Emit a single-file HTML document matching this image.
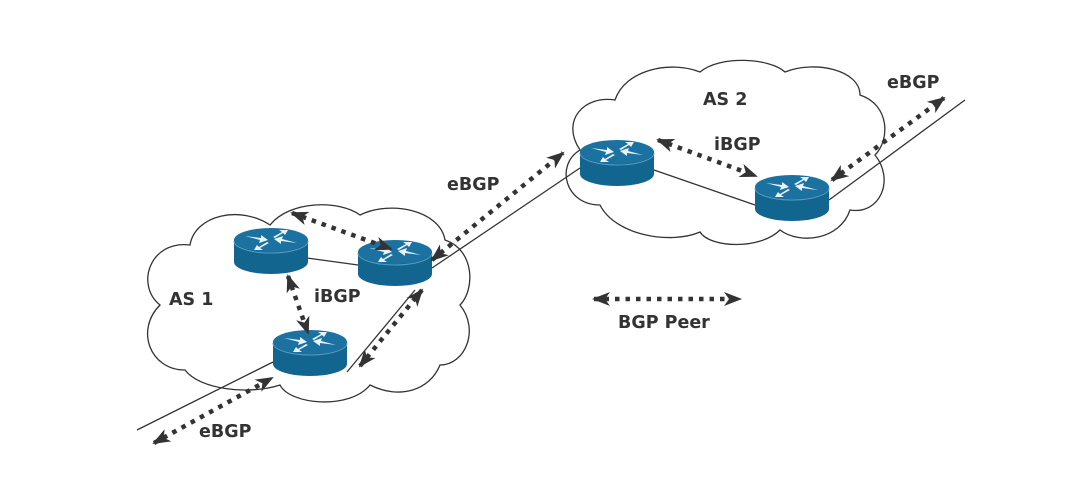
<!DOCTYPE html>
<html><head><meta charset="utf-8"><style>
html,body{margin:0;padding:0;background:#fff;}
svg{display:block}
text{font-family:"DejaVu Sans","Liberation Sans",sans-serif;font-weight:bold;fill:#333;font-size:17.5px}
</style></head><body>
<svg width="1080" height="480" viewBox="0 0 1080 480">
<defs>
<marker id="ah" viewBox="0 0 18 14" refX="16" refY="7" markerWidth="18" markerHeight="14" markerUnits="userSpaceOnUse" orient="auto-start-reverse">
<path d="M0,0 L18,7 L0,14 L5,7 Z" fill="#333"/>
</marker>
<g id="r">
<path d="M-37,0 L-37,22 A37,12 0 0 0 37,22 L37,0 Z" fill="#11658f"/>
<ellipse cx="0" cy="0" rx="37" ry="12" fill="#1b72a0"/>
<path d="M-37,1 A37,12 0 0 0 37,1" fill="none" stroke="#5a9cc0" stroke-width="1"/>
<g fill="#e8f2f8">
<path d="M-26,-4 L-10,-2 L-10,-5 L-3,0 L-12,3 L-11,0 Z"/>
<path d="M26,3 L10,1 L10,4 L3,-1 L12,-4 L11,-1 Z"/>
<path d="M2,-3 L11,-8 L8,-10 L17,-10 L14,-5 L12,-7 L4,-2 Z"/>
<path d="M-2,3 L-11,8 L-8,10 L-17,10 L-14,5 L-12,7 L-4,2 Z"/>
</g>
</g>
</defs>
<path d="M185,370 C150,370 135,330 160,305 C135,285 150,240 190,245 C195,215 240,205 270,225 C290,200 340,200 360,215 C390,200 440,210 445,240 C475,250 475,290 460,305 C480,330 465,365 440,365 C430,390 400,400 370,385 C350,410 290,405 280,385 C250,395 200,390 185,370 Z" fill="none" stroke="#333" stroke-width="1.3"/>
<path d="M600,205 C565,205 555,165 580,150 C560,120 585,95 615,100 C625,70 670,60 700,72 C720,55 770,58 785,72 C815,60 860,70 860,95 C890,105 890,140 875,155 C895,180 880,215 850,210 C840,240 800,245 780,230 C760,250 710,248 700,232 C670,245 615,235 600,205 Z" fill="none" stroke="#333" stroke-width="1.3"/>
<g stroke="#333" stroke-width="1.3" fill="none">
<line x1="137" y1="430" x2="273" y2="362"/>
<line x1="347" y1="372" x2="415" y2="290"/>
<line x1="307" y1="258" x2="358" y2="265"/>
<line x1="432" y1="268" x2="580" y2="168"/>
<line x1="654" y1="170" x2="755" y2="205"/>
<line x1="829" y1="200" x2="965" y2="100"/>
</g>
<use href="#r" x="271" y="240"/>
<use href="#r" x="395" y="252"/>
<use href="#r" x="310" y="342"/>
<use href="#r" x="617" y="152"/>
<use href="#r" x="792" y="187"/>
<g stroke="#333" stroke-width="4.5" stroke-dasharray="4.5 6" fill="none" marker-start="url(#ah)" marker-end="url(#ah)">
<line x1="154" y1="443" x2="272" y2="378"/>
<line x1="360" y1="366" x2="422" y2="290"/>
<line x1="288" y1="276" x2="308" y2="333"/>
<line x1="292" y1="213" x2="391" y2="249"/>
<line x1="432" y1="260" x2="563" y2="153"/>
<line x1="658" y1="140" x2="756" y2="176"/>
<line x1="832" y1="180" x2="944" y2="98"/>
<line x1="594" y1="299" x2="740" y2="299"/>
</g>
<text x="447" y="190">eBGP</text>
<text x="703" y="105">AS 2</text>
<text x="714" y="150">iBGP</text>
<text x="887" y="88">eBGP</text>
<text x="169" y="305">AS 1</text>
<text x="314" y="302">iBGP</text>
<text x="199" y="437">eBGP</text>
<text x="618" y="328">BGP Peer</text>
</svg>
</body></html>
